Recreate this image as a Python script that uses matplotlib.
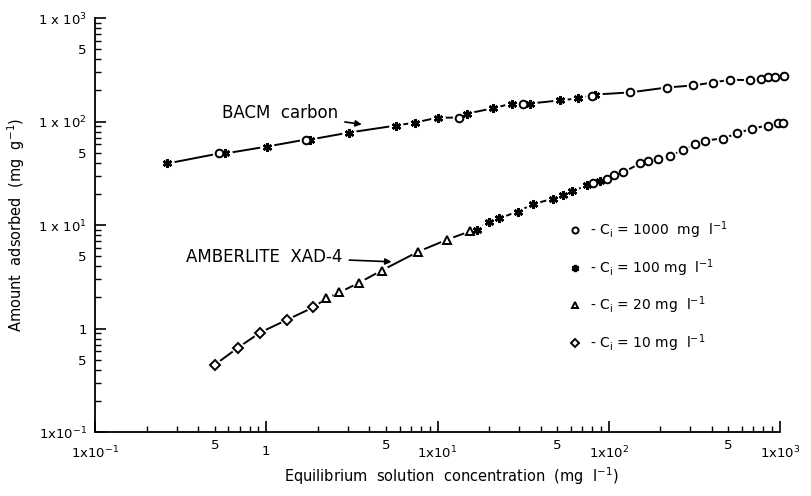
import numpy as np
import matplotlib
matplotlib.use('Agg')
import matplotlib.pyplot as plt
from matplotlib.ticker import LogLocator, FixedLocator, FuncFormatter

plt.rcParams['font.family'] = 'DejaVu Sans'
plt.rcParams['mathtext.default'] = 'regular'

# 1. data (x: mg l-1, y: mg g-1)
# BACM carbon
bacm_1000_x = [0.53, 1.71, 13.4, 31.4, 79.6, 133, 218, 310, 405, 510, 668, 775, 851, 935, 1050]
bacm_1000_y = [49.1, 67.0, 109, 146, 178, 191, 213, 223, 238, 253, 251, 260, 272, 272, 278]
bacm_100_x = [0.264, 0.575, 1.01, 1.81, 3.06, 5.75, 7.43, 10.0, 14.8, 21.0, 27.1, 34.5, 51.7, 65.9, 82.8]
bacm_100_y = [39.3, 49.1, 57.3, 67.0, 78.3, 91.5, 97.8, 109, 119, 134, 149, 149, 160, 167, 182]

# AMBERLITE XAD-4
xad_10_x = [0.503, 0.686, 0.922, 1.33, 1.88]
xad_10_y = [0.449, 0.655, 0.915, 1.22, 1.60]
xad_20_x = [2.24, 2.67, 3.50, 4.71, 7.74, 11.4, 15.4]
xad_20_y = [1.95, 2.23, 2.78, 3.63, 5.54, 7.24, 8.66]
xad_100_x = [16.9, 19.9, 23.0, 29.4, 35.9, 47.1, 53.8, 60.8, 74.3, 88.6]
xad_100_y = [9.0, 10.8, 11.6, 13.5, 15.8, 18.0, 19.7, 21.1, 24.1, 26.9]
xad_1000_x = [80.6, 97.3, 108, 121, 152, 169, 193, 227, 271, 319, 364, 464, 561, 686, 851, 973, 1040]
xad_1000_y = [25.2, 28.1, 30.1, 32.2, 39.3, 42.0, 43.9, 46.9, 52.5, 61.3, 65.5, 68.5, 76.6, 85.5, 91.5, 95.7, 95.7]

legend_labels = ['- C$_i$ = 1000  mg  l$^{-1}$', '- C$_i$ = 100 mg  l$^{-1}$',
                 '- C$_i$ = 20 mg  l$^{-1}$', '- C$_i$ = 10 mg  l$^{-1}$']

y_ticks = [0.1, 1, 10, 100, 1000]
y_tick_labels = ['1x10$^{-1}$', '1', '1 x 10$^{1}$', '1 x 10$^{2}$', '1 x 10$^{3}$']
x_ticks = [0.1, 1, 10, 100, 1000]
x_tick_labels = ['1x10$^{-1}$', '1', '1x10$^{1}$', '1x10$^{2}$', '1x10$^{3}$']

# 2. figure
fig = plt.figure(figsize=(8.12, 4.96), dpi=100)
ax = fig.add_axes([0.117, 0.129, 0.8436, 0.8347])
ax.set_xscale('log')
ax.set_yscale('log')

star = (6, 2, 0)
styles = {
    '1000': dict(marker='o', ms=5.5),
    '100': dict(marker=star, ms=6.5),
    '20': dict(marker='^', ms=5.5),
    '10': dict(marker='D', ms=5.5),
}


def draw_curve(series):
    xs = np.concatenate([np.asarray(s[0], float) for s in series])
    ys = np.concatenate([np.asarray(s[1], float) for s in series])
    order = np.argsort(xs)
    ax.plot(xs[order], ys[order], '-', color='k', lw=1.4, zorder=1, clip_on=False)
    handles = {}
    for x, y, key in series:
        st = styles[key]
        # white halo so the line breaks around each point
        ax.plot(x, y, ls='none', marker='o', ms=st['ms'] + 3, mfc='w', mec='w',
                zorder=2, clip_on=False)
        if key == '100':
            h, = ax.plot(x, y, ls='none', marker=st['marker'], ms=st['ms'], mec='k',
                         mew=1.8, zorder=3, clip_on=False)
        else:
            h, = ax.plot(x, y, ls='none', marker=st['marker'], ms=st['ms'], mfc='w',
                         mec='k', mew=1.4, zorder=3, clip_on=False)
        handles[key] = h
    return handles


draw_curve([(bacm_100_x, bacm_100_y, '100'), (bacm_1000_x, bacm_1000_y, '1000')])
hs = draw_curve([(xad_10_x, xad_10_y, '10'), (xad_20_x, xad_20_y, '20'),
                 (xad_100_x, xad_100_y, '100'), (xad_1000_x, xad_1000_y, '1000')])

# 3. annotations
ax.annotate('BACM  carbon', xy=(3.75, 93), xytext=(0.55, 122), fontsize=12,
            ha='left', va='center',
            arrowprops=dict(arrowstyle='-|>', color='k', lw=1.2, shrinkA=3, shrinkB=2,
                            mutation_scale=9))
ax.annotate('AMBERLITE  XAD-4', xy=(5.6, 4.4), xytext=(0.34, 4.95), fontsize=12,
            ha='left', va='center',
            arrowprops=dict(arrowstyle='-|>', color='k', lw=1.2, shrinkA=3, shrinkB=2,
                            mutation_scale=9))

leg = ax.legend([hs['1000'], hs['100'], hs['20'], hs['10']], legend_labels,
                loc='upper left', bbox_to_anchor=(0.68, 0.53), frameon=False,
                fontsize=10, labelspacing=1.15, handlelength=1.0, handletextpad=0.6,
                borderpad=0, markerscale=0.8)

# 4. axes
ax.set_xlim(0.1, 1000)
ax.set_ylim(0.1, 1000)
for side in ['top', 'right']:
    ax.spines[side].set_visible(False)
for side in ['left', 'bottom']:
    ax.spines[side].set_linewidth(1.3)

ax.xaxis.set_major_locator(FixedLocator(x_ticks))
ax.yaxis.set_major_locator(FixedLocator(y_ticks))
ax.set_xticklabels(x_tick_labels)
ax.set_yticklabels(y_tick_labels)
ax.xaxis.set_minor_locator(LogLocator(base=10, subs=np.arange(2, 10), numticks=20))
ax.yaxis.set_minor_locator(LogLocator(base=10, subs=np.arange(2, 10), numticks=20))

five = FuncFormatter(lambda v, p: '5' if abs(v / 10 ** np.floor(np.log10(v) + 1e-9) - 5) < 1e-6 else '')
ax.xaxis.set_minor_formatter(five)
ax.yaxis.set_minor_formatter(five)

ax.tick_params(which='major', direction='in', length=8, width=1.2, labelsize=9.5)
ax.tick_params(which='minor', direction='in', length=4, width=1.0, labelsize=9.5)
ax.tick_params(axis='x', which='major', pad=9)
ax.tick_params(axis='x', which='minor', pad=5)
ax.tick_params(axis='y', which='both', pad=6)

ax.set_xlabel('Equilibrium  solution  concentration  (mg  l$^{-1}$)', fontsize=10.5)
ax.xaxis.set_label_coords(0.52, -0.08)
ax.set_ylabel('Amount  adsorbed  (mg  g$^{-1}$)', fontsize=10.5)
ax.yaxis.set_label_coords(-0.1, 0.5)

fig.savefig('out.png', dpi=100)
